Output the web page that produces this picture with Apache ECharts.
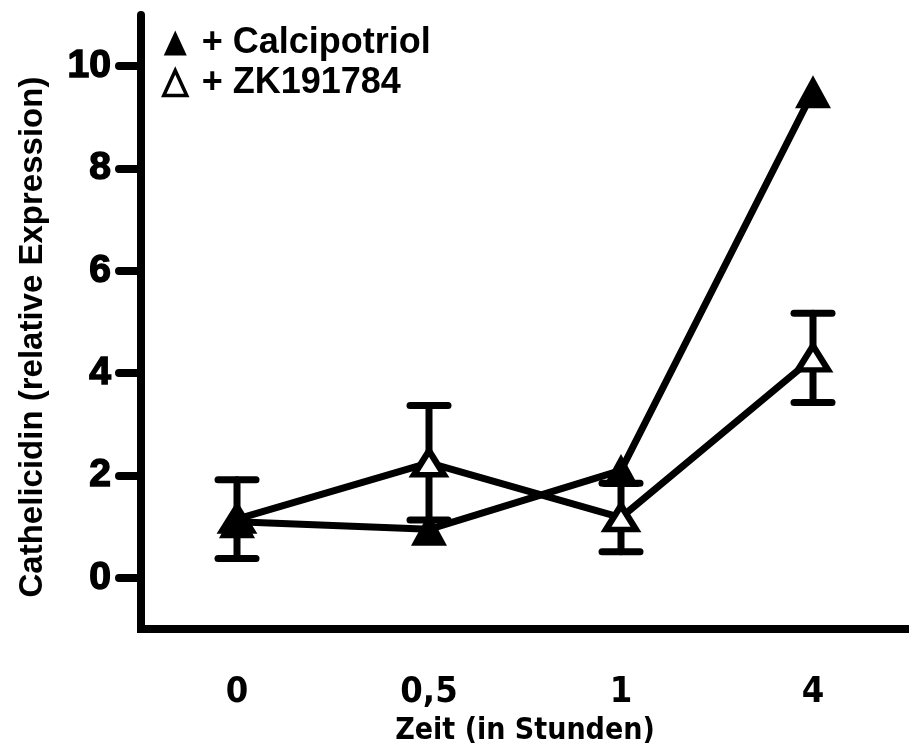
<!DOCTYPE html>
<html>
<head>
<meta charset="utf-8">
<script src="https://cdn.jsdelivr.net/npm/echarts@6/dist/echarts.min.js"></script>
<style>
  html, body { margin: 0; padding: 0; background: #fff; }
  #chart { width: 909px; height: 751px; }
</style>
</head>
<body>
<div id="chart"></div>
<script>
// Time points (hours) and tick values
const timeLabels = ['0', '0,5', '1', '4'];
const yTicks = [0, 2, 4, 6, 8, 10];

// Relative cathelicidin expression
const calcipotriol = [1.1, 0.95, 2.1, 9.5];
const zk191784 = [1.15, 2.25, 1.18, 4.3];
const zk191784Err = [0.77, 1.12, 0.67, 0.87];

const seriesNames = ['+ Calcipotriol', '+ ZK191784'];

const errorData = zk191784.map((v, i) => [i, v - zk191784Err[i], v + zk191784Err[i]]);

const narrowFont = '"Liberation Sans Narrow", "DejaVu Sans Condensed", "Liberation Sans", Arial, sans-serif';
const boldFont = '"Liberation Sans", Arial, sans-serif';

const chart = echarts.init(document.getElementById('chart'), null, { renderer: 'canvas' });

chart.setOption({
  backgroundColor: '#ffffff',
  animation: false,
  grid: { left: 141, top: 15, width: 774, height: 624, containLabel: false },
  legend: {
    orient: 'vertical',
    left: 162,
    top: 25,
    padding: 0,
    itemGap: 4,
    itemWidth: 23,
    itemHeight: 25,
    textStyle: {
      fontFamily: boldFont, fontSize: 36, fontWeight: 'bold', color: '#000',
      padding: [0, 0, 0, 10]
    },
    data: [
      { name: seriesNames[0], icon: 'triangle', itemStyle: { color: '#000', borderWidth: 0 } },
      { name: seriesNames[1], icon: 'triangle', itemStyle: { color: '#fff', borderColor: '#000', borderWidth: 3.5 } }
    ]
  },
  xAxis: {
    type: 'category',
    data: timeLabels,
    boundaryGap: true,
    name: 'Zeit (in Stunden)',
    nameLocation: 'middle',
    nameGap: 82,
    nameTextStyle: { fontFamily: narrowFont, fontSize: 30, fontWeight: 'bold', color: '#000' },
    axisLine: { onZero: false, lineStyle: { color: '#000', width: 8, cap: 'square' } },
    axisTick: { alignWithLabel: true, length: 19, lineStyle: { color: '#000', width: 8, cap: 'round' } },
    axisLabel: { margin: 46, fontFamily: narrowFont, fontSize: 36, fontWeight: 'bold', color: '#000' },
    splitLine: { show: false }
  },
  yAxis: {
    type: 'value',
    min: -1,
    max: 11,
    name: 'Cathelicidin (relative Expression)',
    nameLocation: 'middle',
    nameGap: 92,
    nameTextStyle: {
      fontFamily: boldFont, fontSize: 33, fontWeight: 'bold', color: '#000',
      padding: [0, 30, 0, 0]
    },
    axisLine: { show: true, onZero: false, lineStyle: { color: '#000', width: 8, cap: 'round' } },
    axisTick: { show: true, customValues: yTicks, length: 22, lineStyle: { color: '#000', width: 8, cap: 'round' } },
    axisLabel: {
      customValues: yTicks, margin: 30,
      fontFamily: boldFont, fontSize: 39, fontWeight: 'bold', color: '#000',
      textBorderColor: '#000', textBorderWidth: 1.5
    },
    splitLine: { show: false }
  },
  series: [
    {
      type: 'custom',
      name: 'err',
      z: 1,
      data: errorData,
      encode: { x: 0, y: [1, 2] },
      renderItem: function (params, api) {
        const x = api.value(0);
        const lo = api.coord([x, api.value(1)]);
        const hi = api.coord([x, api.value(2)]);
        const w = 19;
        const style = { stroke: '#000', lineWidth: 7, lineCap: 'round' };
        return {
          type: 'group',
          children: [
            { type: 'line', shape: { x1: lo[0], y1: lo[1], x2: hi[0], y2: hi[1] }, style: style },
            { type: 'line', shape: { x1: lo[0] - w, y1: lo[1], x2: lo[0] + w, y2: lo[1] }, style: style },
            { type: 'line', shape: { x1: hi[0] - w, y1: hi[1], x2: hi[0] + w, y2: hi[1] }, style: style }
          ]
        };
      }
    },
    {
      type: 'line',
      name: seriesNames[1],
      z: 2,
      data: zk191784,
      symbol: 'triangle',
      symbolSize: [30, 24],
      lineStyle: { color: '#000', width: 7, cap: 'round', join: 'round' },
      itemStyle: { color: '#fff', borderColor: '#000', borderWidth: 6 }
    },
    {
      type: 'line',
      name: seriesNames[0],
      z: 3,
      data: calcipotriol,
      symbol: 'triangle',
      symbolSize: [36, 33],
      lineStyle: { color: '#000', width: 7, cap: 'round', join: 'round' },
      itemStyle: { color: '#000', borderWidth: 0 }
    }
  ]
});
</script>
</body>
</html>
